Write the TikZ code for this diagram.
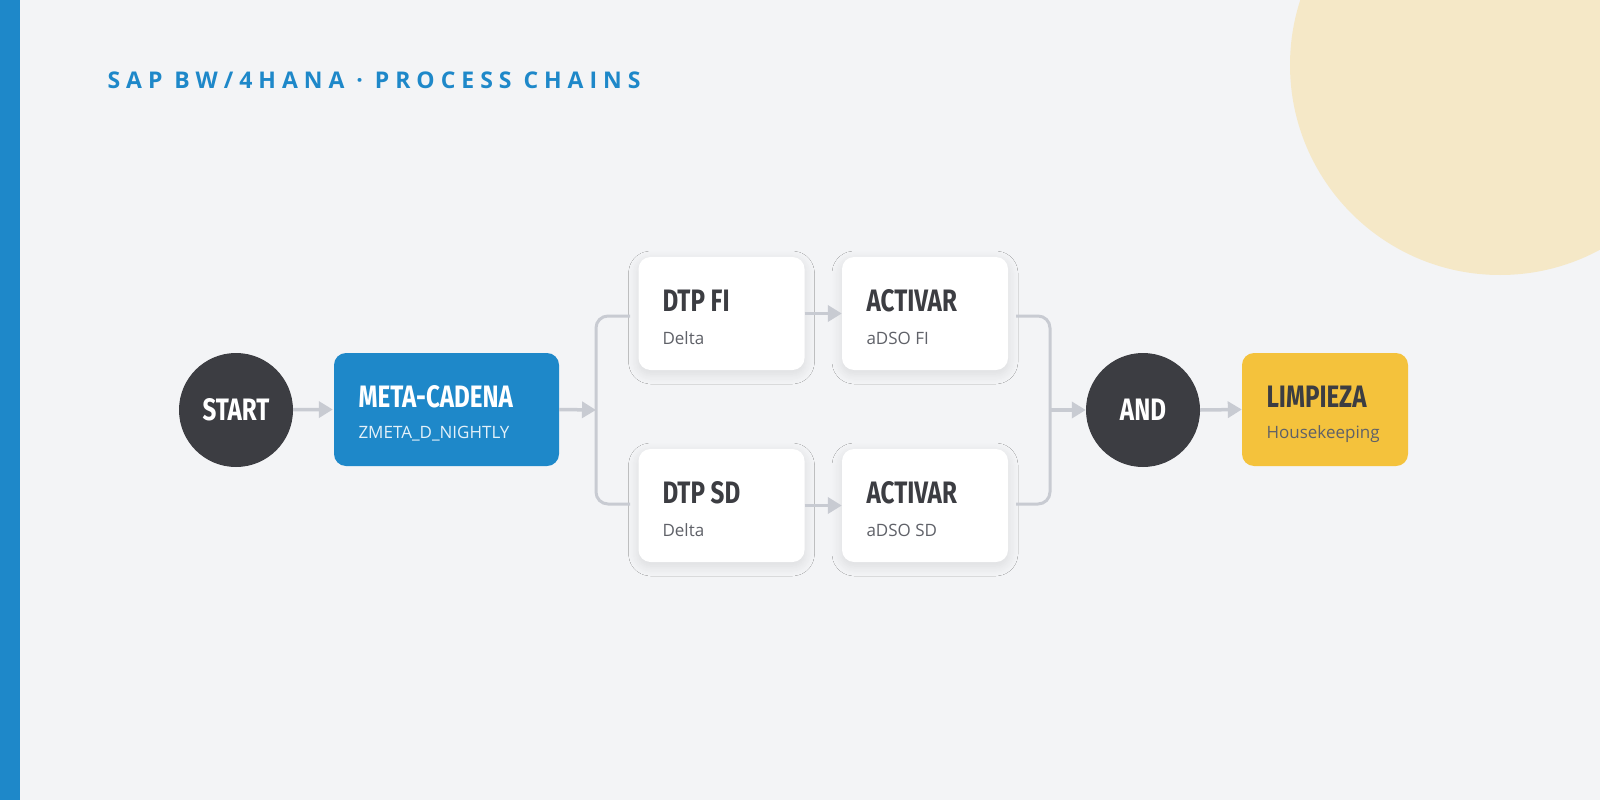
\documentclass[tikz,border=0pt]{standalone}
\usepackage{fontspec}
\setmainfont{Open Sans}
\newfontfamily\headf[FakeStretch=0.78]{Fira Sans}
\newfontfamily\titlef[LetterSpace=26]{Open Sans}
\usetikzlibrary{arrows.meta,shadows.blur}
\definecolor{bg}{HTML}{F3F4F6}
\definecolor{sapblue}{HTML}{1E88C9}
\definecolor{dark}{HTML}{3C3D42}
\definecolor{cream}{HTML}{F5E8C7}
\definecolor{conn}{HTML}{C8CBD2}
\definecolor{yel}{HTML}{F4C23C}
\definecolor{sub}{HTML}{5F6168}
\begin{document}
\begin{tikzpicture}[x=1pt,y=-1pt,
  box/.style={rounded corners=12pt,minimum width=#1,minimum height=113pt,inner sep=0pt},
  card/.style={box=166pt,fill=white,blur shadow={shadow blur steps=10,shadow blur radius=10pt,shadow xshift=0pt,shadow yshift=-4pt,shadow opacity=10}},
  circ/.style={circle,fill=dark,minimum size=114pt,inner sep=0pt,text=white,font=\headf\bfseries\fontsize{31}{31}\selectfont},
  head/.style={anchor=west,font=\headf\bfseries\fontsize{31}{31}\selectfont},
  subt/.style={anchor=west,font=\fontsize{17}{17}\selectfont},
  arr/.style={draw=conn,line width=3.5pt,-{Triangle[length=14pt,width=16pt]}},
  br/.style={draw=conn,line width=3pt,rounded corners=12pt}]
\fill[bg] (0,0) rectangle (1600,800);
\begin{scope}
\clip (0,0) rectangle (1600,800);
\fill[cream] (1500,65) circle (210);
\end{scope}
\fill[sapblue] (0,0) rectangle (20,800);
\node[anchor=west,text=sapblue,font=\titlef\bfseries\fontsize{23}{23}\selectfont] (title) at (104,80) {SAP BW/4HANA · PROCESS CHAINS};

\node[circ] (start) at (236,410) {START};
\node[box=225pt,fill=sapblue] (meta) at (446.5,409.5) {};
\node[head,text=white] at (355,397) {META-CADENA};
\node[subt,text=white!88!sapblue] at (355,434) {ZMETA\_D\_NIGHTLY};

\node[card] (dfi) at (721.5,313.5) {};
\node[head,text=dark] at (659,301) {DTP FI};
\node[subt,text=sub] at (659,338) {Delta};
\node[card] (afi) at (925,313.5) {};
\node[head,text=dark] at (863,301) {ACTIVAR};
\node[subt,text=sub] at (863,338) {aDSO FI};
\node[card] (dsd) at (721.5,505.5) {};
\node[head,text=dark] at (659,493) {DTP SD};
\node[subt,text=sub] at (659,530) {Delta};
\node[card] (asd) at (925,505.5) {};
\node[head,text=dark] at (863,493) {ACTIVAR};
\node[subt,text=sub] at (863,530) {aDSO SD};

\node[circ] (and) at (1143,410) {AND};
\node[box=166pt,fill=yel] (limp) at (1325,409.5) {};
\node[head,text=dark] at (1263,397) {LIMPIEZA};
\node[subt,text=sub] at (1263,434) {Housekeeping};

\coordinate (fork) at (596,410);
\coordinate (join) at (1050,410);
\draw[arr] (start) -- ([xshift=-1pt]meta.west);
\draw[arr] (meta.east) -- (fork);
\draw[br] (630,316) -- (596,316) -- (596,504) -- (630,504);
\draw[arr] (dfi.east) -- (afi.west);
\draw[arr] (dsd.east) -- (asd.west);
\draw[br] (1016,316) -- (1050,316) -- (1050,504) -- (1016,504);
\draw[arr] (join) -- (and.west);
\draw[arr] (and.east) -- (limp.west);
\pgfresetboundingbox
\useasboundingbox (0,0) rectangle (1600,800);
\end{tikzpicture}
\end{document}
